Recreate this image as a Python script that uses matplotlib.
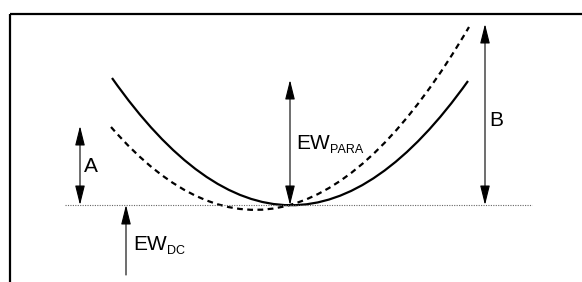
import matplotlib
matplotlib.use("Agg")
import matplotlib.pyplot as plt
from matplotlib.path import Path
from matplotlib.patches import PathPatch, FancyArrowPatch

plt.rcParams["font.family"] = ["Liberation Sans", "DejaVu Sans"]

# diagram geometry (pixel units, y grows downwards)
baseline_y = 205
baseline_x = [65, 532]

# parabolas as quadratic bezier: start, control, end
solid_curve = [(112, 78), (290, 331), (468, 81)]
dashed_curve = [(111, 127), (290, 333), (469, 27)]

# arrows: name, x, y_from, y_to, both ends?
arrows = [
    ("A", 80, 126, 205, True),
    ("EW_DC", 126, 275, 205, False),
    ("EW_PARA", 290, 80, 205, True),
    ("B", 485, 24, 205, True),
]

# labels: main text, subscript, x, baseline y, subscript x
labels = [
    ("A", "", 84, 172, 0),
    ("EW", "DC", 133, 250, 167),
    ("EW", "PARA", 296, 149, 330),
    ("B", "", 489, 126, 0),
]

fig = plt.figure(figsize=(5.82, 2.82), dpi=100)
ax = fig.add_axes([0, 0, 1, 1])
ax.set_xlim(0, 582)
ax.set_ylim(282, 0)
ax.axis("off")

# frame (only top and left visible)
ax.plot([10, 582], [13.5, 13.5], color="black", lw=1.6, solid_capstyle="butt")
ax.plot([10, 10], [13.5, 282], color="black", lw=1.6, solid_capstyle="butt")

# dotted baseline
ax.plot(baseline_x, [baseline_y, baseline_y], color="#666666", lw=0.8,
        linestyle=(0, (1, 1.2)))

codes = [Path.MOVETO, Path.CURVE3, Path.CURVE3]
ax.add_patch(PathPatch(Path(solid_curve, codes), fill=False, color="black", lw=1.6))
ax.add_patch(PathPatch(Path(dashed_curve, codes), fill=False, color="black", lw=1.6,
                       linestyle=(0, (2.6, 2.0))))

for name, x, y0, y1, both in arrows:
    style = "<|-|>" if both else "-|>"
    arr = FancyArrowPatch((x, y0), (x, y1),
                          arrowstyle=style + ",head_length=1.2,head_width=0.3",
                          mutation_scale=10, color="black", lw=0.8,
                          shrinkA=0, shrinkB=0)
    ax.add_patch(arr)

for main, sub, x, y, sx in labels:
    ax.text(x, y, main, fontsize=15, ha="left", va="baseline")
    if sub:
        ax.text(sx, y + 4, sub, fontsize=9, ha="left", va="baseline")

fig.savefig("out.png", dpi=100)
